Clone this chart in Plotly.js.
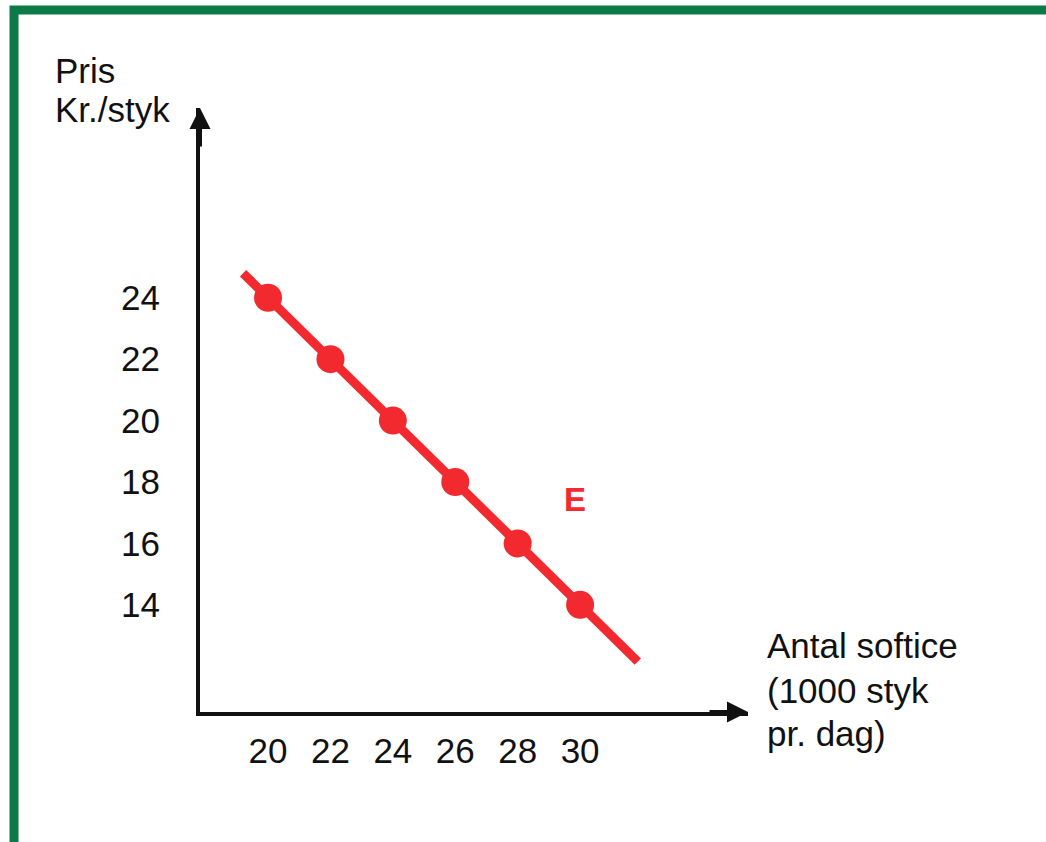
<!DOCTYPE html>
<html>
<head>
<meta charset="utf-8">
<script src="https://cdn.plot.ly/plotly-3.0.1.min.js"></script>
<style>html,body{margin:0;padding:0;background:#fff;}#chart{width:1046px;height:842px;}</style>
</head>
<body>
<div id="chart"></div>
<script>
// Data
const quantity = [20, 22, 24, 26, 28, 30];          // Antal softice (1000 styk pr. dag)
const price = [24, 22, 20, 18, 16, 14];             // Pris Kr./styk
const demandLineX = [19.2, 31.85];                  // extent of the demand line E
const demandLineY = [24.8, 12.15];
const xTickVals = [20, 22, 24, 26, 28, 30];
const yTickVals = [14, 16, 18, 20, 22, 24];
const yTitleLines = ['Pris', 'Kr./styk'];
const xTitleLines = ['Antal softice', '(1000 styk', 'pr. dag)'];
const curveLabel = 'E';
const curveLabelPos = [29.84, 17.42];

const red = '#F22A30';
const FONT = '"Liberation Sans", Arial, sans-serif';
const FS = 35;

const traces = [
  {
    x: demandLineX, y: demandLineY, mode: 'lines', type: 'scatter',
    line: {color: red, width: 9}, hoverinfo: 'skip', showlegend: false
  },
  {
    x: quantity, y: price, mode: 'markers', type: 'scatter',
    marker: {color: red, size: 28}, showlegend: false
  }
];

const yTitleY = [1.0629, 0.9967];
const xTitleY = [0.1109, 0.0364, -0.0348];
const titleAnns = [];
yTitleLines.forEach((t, i) => titleAnns.push({
  xref: 'paper', yref: 'paper', x: -0.2682, y: yTitleY[i], xanchor: 'left', yanchor: 'middle',
  text: t, showarrow: false, font: {family: FONT, size: FS, color: '#111'}
}));
xTitleLines.forEach((t, i) => titleAnns.push({
  xref: 'paper', yref: 'paper', x: 1.031, y: xTitleY[i], xanchor: 'left', yanchor: 'middle',
  text: t, showarrow: false, font: {family: FONT, size: FS, color: '#111'}
}));

const layout = {
  width: 1046, height: 842,
  margin: {l: 200, r: 298, t: 108, b: 130, pad: 0},
  paper_bgcolor: '#ffffff', plot_bgcolor: '#ffffff',
  font: {family: FONT, size: FS, color: '#111'},
  showlegend: false,
  xaxis: {
    range: [17.82, 35.38], showgrid: false, zeroline: false,
    showline: true, linewidth: 4, linecolor: '#111',
    tickvals: xTickVals, ticks: 'outside', ticklen: 5, tickcolor: 'rgba(0,0,0,0)',
    tickfont: {family: FONT, size: FS, color: '#111'}, fixedrange: true
  },
  yaxis: {
    range: [10.51, 30.18], showgrid: false, zeroline: false,
    showline: true, linewidth: 4, linecolor: '#111',
    tickvals: yTickVals, ticks: 'outside', ticklen: 29, tickcolor: 'rgba(0,0,0,0)',
    tickfont: {family: FONT, size: FS, color: '#111'}, fixedrange: true
  },
  shapes: [
    {type: 'rect', xref: 'paper', yref: 'paper',
     x0: -0.3394, x1: 1.569, y0: -0.2285, y1: 1.1623,
     line: {color: '#0B7A46', width: 9}, fillcolor: 'rgba(0,0,0,0)', layer: 'below'}
  ],
  annotations: [
    {xref: 'paper', yref: 'paper', x: 0, y: 1, ax: 0, ay: 40, axref: 'pixel', ayref: 'pixel',
     text: '', showarrow: true, arrowhead: 2, arrowsize: 1.05, arrowwidth: 4, arrowcolor: '#111', standoff: 0},
    {xref: 'paper', yref: 'paper', x: 1.0, y: 0, ax: -40, ay: 0, axref: 'pixel', ayref: 'pixel',
     text: '', showarrow: true, arrowhead: 2, arrowsize: 1.05, arrowwidth: 4, arrowcolor: '#111', standoff: 0},
    ...titleAnns,
    {xref: 'x', yref: 'y', x: curveLabelPos[0], y: curveLabelPos[1], text: '<b>' + curveLabel + '</b>',
     showarrow: false, font: {family: FONT, size: 33, color: red}}
  ]
};

Plotly.newPlot('chart', traces, layout, {displayModeBar: false, staticPlot: true});
</script>
</body>
</html>
